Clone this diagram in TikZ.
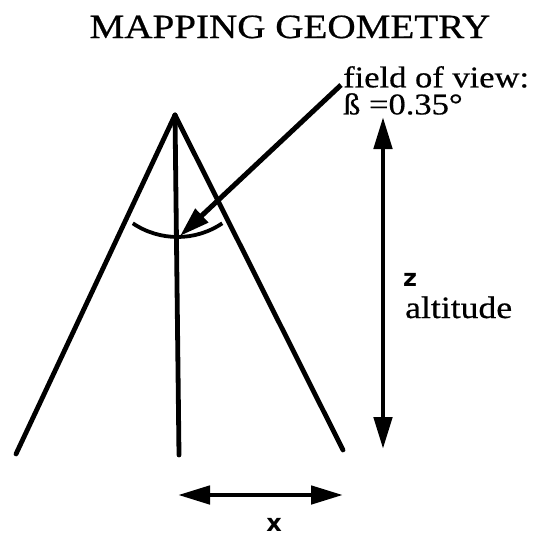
\documentclass[tikz,border=0pt]{standalone}
\usepackage{fontspec}
\setmainfont{Liberation Serif}
\newfontfamily\bodyfont[FakeStretch=1.15,FakeBold=0.6]{Liberation Serif}
\newfontfamily\letterfont{DejaVu Sans}
\usetikzlibrary{arrows.meta}
\tikzset{
  ray/.style={line width=4.8pt, line cap=round},
  dimarrow/.style={line width=4.8pt, {Triangle[length=32pt,width=18pt]}-{Triangle[length=32pt,width=18pt]}},
  pointer/.style={line width=5pt, -{Triangle[length=30pt,width=18pt]}},
  lbl/.style={inner sep=0pt, anchor=base west, font=\bodyfont\fontsize{31}{31}\selectfont},
  letter/.style={inner sep=0pt, font=\letterfont\bfseries\fontsize{24}{24}\selectfont},
}
\begin{document}
\begin{tikzpicture}[x=1pt,y=-1pt]
\useasboundingbox (0,0) rectangle (536,539);
% title
\node[inner sep=0pt, anchor=base, font=\bodyfont\fontsize{34}{34}\selectfont] (title) at (290,38) {MAPPING GEOMETRY};
% geometry points
\coordinate (apex) at (175,115);
\coordinate (lft) at (16,454);
\coordinate (mid) at (179,455);
\coordinate (rgt) at (343,450);
\draw[ray] (apex) -- (lft);
\draw[ray] (apex) -- (mid);
\draw[ray] (apex) -- (rgt);
% field of view arc
\draw[line width=3.8pt] (132.8,223.3) arc[start angle=124, end angle=56, radius=80];
% labels
\node[inner sep=0pt, anchor=north west, align=left, font=\bodyfont\fontsize{30}{27}\selectfont] (fov) at (343,66) {field of view:\\ß =0.35°};
\coordinate (ptail) at (341,85);
\coordinate (ptip) at (180,236);
\draw[pointer] (ptail) -- (ptip);
% altitude arrow
\coordinate (ztop) at (383,117);
\coordinate (zbot) at (383,449);
\draw[dimarrow] (ztop) -- (zbot);
\node[letter, anchor=base west] (zl) at (403,286) {z};
\node[lbl] (alt) at (405,318) {altitude};
% x arrow
\coordinate (xl) at (178,495);
\coordinate (xr) at (343,495);
\draw[dimarrow] (xl) -- (xr);
\node[letter, anchor=base] (xlab) at (274,531) {x};
\end{tikzpicture}
\end{document}
